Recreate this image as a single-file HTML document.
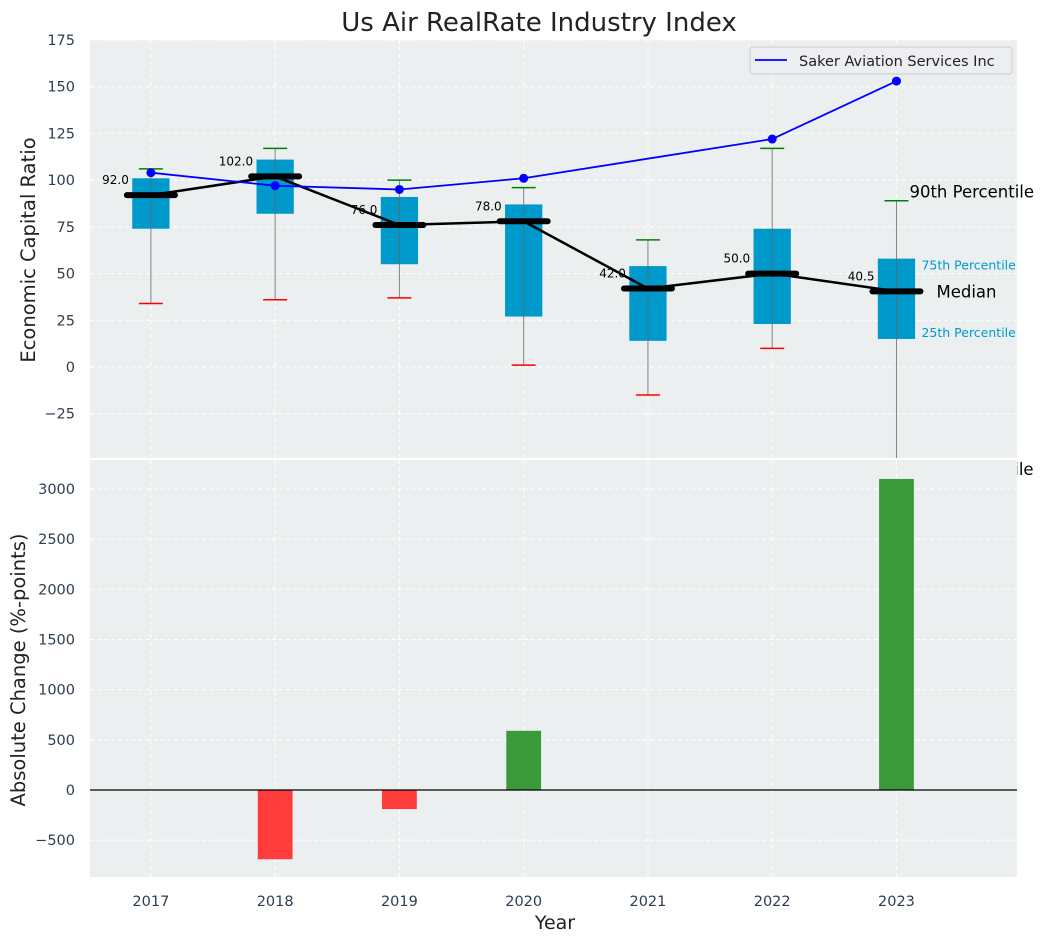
<!DOCTYPE html>
<html><head><meta charset="utf-8"><style>
body{margin:0;background:#fff;}
svg{display:block;font-family:"DejaVu Sans","Liberation Sans",sans-serif;}
.tick{fill:#2c3e50;font-size:14.5px;}
</style></head><body>
<svg id="chart" width="1044" height="942" viewBox="0 0 1044 942"></svg>
<script>
const years = [2017, 2018, 2019, 2020, 2021, 2022, 2023];
const p10 = [34, 36, 37, 1, -15, 10, -60];
const q1 = [74, 82, 55, 27, 14, 23, 15];
const medians = [92, 102, 76, 78, 42, 50, 40.5];
const q3 = [101, 111, 91, 87, 54, 74, 58];
const p90 = [106, 117, 100, 96, 68, 117, 89];
const companyYears = [2017, 2018, 2019, 2020, 2022, 2023];
const companyValues = [104, 97, 95, 101, 122, 153];
const changeYears = [2018, 2019, 2020, 2023];
const changeValues = [-690, -190, 590, 3100];
const topTicks = [-25, 0, 25, 50, 75, 100, 125, 150, 175];
const bottomTicks = [-500, 0, 500, 1000, 1500, 2000, 2500, 3000];

const NS = "http://www.w3.org/2000/svg";
const svgEl = document.getElementById('chart');
function mk(tag, attrs, parent, text) {
  const e = document.createElementNS(NS, tag);
  for (const k in attrs) e.setAttribute(k, attrs[k]);
  if (text !== undefined) e.textContent = text;
  (parent || svgEl).appendChild(e);
  return e;
}
const AX_L = 90, AX_R = 1017;
const xMin = 2016.51, xMax = 2023.97;
const xs = v => AX_L + (v - xMin) / (xMax - xMin) * (AX_R - AX_L);
const T_TOP = 40, T_BOT = 458, tMin = -48.7, tMax = 175;
const ty = v => T_BOT - (v - tMin) / (tMax - tMin) * (T_BOT - T_TOP);
const B_TOP = 460, B_BOT = 877, bMin = -867, bMax = 3289;
const by = v => B_BOT - (v - bMin) / (bMax - bMin) * (B_BOT - B_TOP);

const title = mk('text', {x: 539, y: 31, 'text-anchor': 'middle', 'font-size': 26, fill: '#222'}, svgEl, 'Us Air RealRate Industry Index');



// ===== Top axes =====
const topG = mk('g', {});


mk('rect', {x: AX_L, y: T_TOP, width: AX_R - AX_L, height: T_BOT - T_TOP, fill: '#eceff0'}, topG);
topTicks.forEach(t => {
  mk('line', {x1: AX_L, x2: AX_R, y1: ty(t), y2: ty(t), stroke: '#fff', 'stroke-dasharray': '4,3', 'stroke-width': 1}, topG);
  const lb = mk('text', {x: 75, y: ty(t) + 5, 'text-anchor': 'end', class: 'tick'}, topG, t < 0 ? '\u2212' + Math.abs(t) : t);
  
  
});
years.forEach(y => mk('line', {x1: xs(y), x2: xs(y), y1: T_TOP, y2: T_BOT, stroke: '#fff', 'stroke-dasharray': '4,3'}, topG));
const yl1 = mk('text', {transform: 'translate(35,250) rotate(-90)', 'text-anchor': 'middle', 'font-size': 19.5, fill: '#222'}, topG, 'Economic Capital Ratio');



const clipT = mk('clipPath', {id: 'ct'});
mk('rect', {x: AX_L, y: T_TOP, width: AX_R - AX_L, height: T_BOT - T_TOP}, clipT);
const plot = mk('g', {'clip-path': 'url(#ct)'}, topG);

const bw = 0.3 * (xs(1) - xs(0));
years.forEach((y, i) => {
  const cx = xs(y);
  const box = mk('rect', {x: cx - bw / 2, y: ty(q3[i]), width: bw, height: ty(q1[i]) - ty(q3[i]), fill: '#0099cc'}, plot);
  
  
  mk('line', {x1: cx, x2: cx, y1: ty(p90[i]), y2: ty(p10[i]), stroke: '#666', 'stroke-width': 1, opacity: 0.8}, plot);
  mk('line', {x1: cx - 12, x2: cx + 12, y1: ty(p90[i]), y2: ty(p90[i]), stroke: 'green', 'stroke-width': 1.5}, plot);
  mk('line', {x1: cx - 12, x2: cx + 12, y1: ty(p10[i]), y2: ty(p10[i]), stroke: 'red', 'stroke-width': 1.5}, plot);
});
mk('polyline', {points: years.map((y, i) => xs(y) + ',' + ty(medians[i])).join(' '), fill: 'none', stroke: '#000', 'stroke-width': 2.5}, plot);
years.forEach((y, i) => {
  const m = mk('line', {x1: xs(y) - 24, x2: xs(y) + 24, y1: ty(medians[i]), y2: ty(medians[i]), stroke: '#000', 'stroke-width': 6, 'stroke-linecap': 'round'}, plot);
  
  
  const t = mk('text', {x: xs(y) - 22, y: ty(medians[i]) - 11, 'text-anchor': 'end', 'font-size': 12, fill: '#000'}, plot, medians[i].toFixed(1));
  
  
});
mk('polyline', {points: companyYears.map((y, i) => xs(y) + ',' + ty(companyValues[i])).join(' '), fill: 'none', stroke: '#0000ff', 'stroke-width': 1.8}, plot);
companyYears.forEach((y, i) => {
  const c = mk('circle', {cx: xs(y), cy: ty(companyValues[i]), r: 4.5, fill: '#0000ff'}, plot);
  
  
});
const leg = mk('g', {}, topG);


mk('rect', {x: 750, y: 47, width: 262, height: 27, rx: 3, fill: '#eceef2', stroke: '#ccc'}, leg);
mk('line', {x1: 755, x2: 787, y1: 60, y2: 60, stroke: '#0000ff', 'stroke-width': 1.8}, leg);
mk('text', {x: 799, y: 66, 'font-size': 14.5, fill: '#222'}, leg, 'Saker Aviation Services Inc');
const lx = xs(2023);
mk('text', {x: lx + 13, y: ty(p90[6]) - 3, 'font-size': 16.5, fill: '#000'}, svgEl, '90th Percentile');
mk('text', {x: lx + 25, y: ty(q3[6]) + 11, 'font-size': 12.5, fill: '#0099cc'}, svgEl, '75th Percentile');
mk('text', {x: lx + 40, y: ty(medians[6]) + 6, 'font-size': 16.5, fill: '#000'}, svgEl, 'Median');
mk('text', {x: lx + 25, y: ty(q1[6]) - 2, 'font-size': 12.5, fill: '#0099cc'}, svgEl, '25th Percentile');
mk('text', {x: 909, y: 475, 'font-size': 16.5, fill: '#000'}, svgEl, '10th Percentile');

// ===== Bottom axes =====
const botG = mk('g', {});


mk('rect', {x: AX_L, y: B_TOP, width: AX_R - AX_L, height: B_BOT - B_TOP, fill: '#eceff0'}, botG);
bottomTicks.forEach(t => {
  mk('line', {x1: AX_L, x2: AX_R, y1: by(t), y2: by(t), stroke: '#fff', 'stroke-dasharray': '4,3'}, botG);
  const lb = mk('text', {x: 75, y: by(t) + 5, 'text-anchor': 'end', class: 'tick'}, botG, t < 0 ? '\u2212' + Math.abs(t) : t);
  
  
});
years.forEach(y => {
  mk('line', {x1: xs(y), x2: xs(y), y1: B_TOP, y2: B_BOT, stroke: '#fff', 'stroke-dasharray': '4,3'}, botG);
  const lb = mk('text', {x: xs(y), y: 906, 'text-anchor': 'middle', class: 'tick'}, botG, y);
  
  
});
const barW = 0.28 * (xs(1) - xs(0));
changeYears.forEach((y, i) => {
  const v = changeValues[i];
  const b = mk('rect', {x: xs(y) - barW / 2, y: Math.min(by(0), by(v)), width: barW, height: Math.abs(by(v) - by(0)), fill: v < 0 ? '#ff3b3b' : '#3a9a3a'}, botG);
  
  
});
mk('line', {x1: AX_L, x2: AX_R, y1: by(0), y2: by(0), stroke: '#000', 'stroke-width': 1.2}, botG);
const yl2 = mk('text', {transform: 'translate(25,670) rotate(-90)', 'text-anchor': 'middle', 'font-size': 19.5, fill: '#222'}, botG, 'Absolute Change (%-points)');


const xl = mk('text', {x: 555, y: 929, 'text-anchor': 'middle', 'font-size': 19, fill: '#222'}, botG, 'Year');


</script>
</body></html>
